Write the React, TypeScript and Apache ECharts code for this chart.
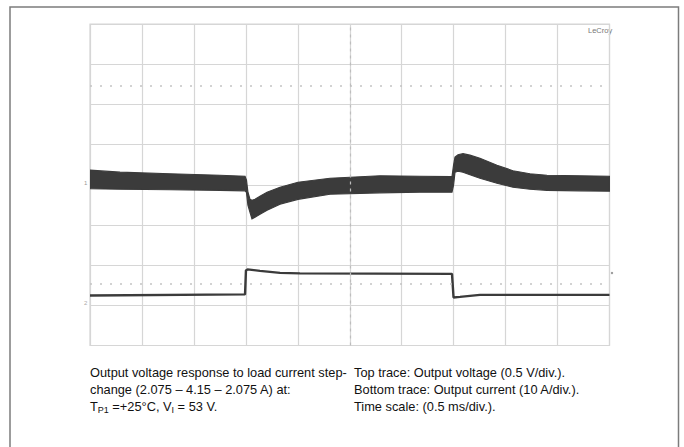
import React, { useEffect, useRef } from "react";
import * as echarts from "echarts";

// Time axis (ms), 0.5 ms/div, 10 divisions
const X_MIN = 0;
const X_MAX = 5;
const X_INTERVAL = 0.5;
// Vertical axis in screen divisions, 8 divisions
const Y_MIN = -4;
const Y_MAX = 4;
const Y_INTERVAL = 1;
const VOLT_PER_DIV = 0.5;

// Top trace: output voltage envelope (V, deviation from trace reference)
const voltTimeMs = [
  0, 0.289, 0.77, 1.251, 1.492, 1.506, 1.52, 1.54, 1.559, 1.588, 1.636, 1.704, 1.829, 2.002, 2.31,
  2.791, 3.176, 3.484, 3.499, 3.513, 3.542, 3.59, 3.657, 3.753, 3.917, 4.071, 4.234, 4.398, 4.716, 5.0,
];
const voltTopV = [
  0.181, 0.156, 0.137, 0.118, 0.106, 0.056, -0.093, -0.181, -0.193, -0.181, -0.143, -0.093, -0.031, 0.031, 0.081,
  0.112, 0.106, 0.1, 0.243, 0.343, 0.374, 0.386, 0.368, 0.33, 0.243, 0.174, 0.137, 0.118, 0.112, 0.106,
];
const voltBotV = [
  -0.05, -0.056, -0.062, -0.069, -0.075, -0.093, -0.255, -0.343, -0.424, -0.405, -0.368, -0.318, -0.243, -0.181, -0.118,
  -0.1, -0.093, -0.093, -0.006, 0.156, 0.168, 0.156, 0.125, 0.081, 0.019, -0.031, -0.056, -0.069, -0.075, -0.081,
];

// Bottom trace: output current, position in screen divisions
const currTimeMs = [0, 1.492, 1.501, 1.516, 1.636, 1.829, 2.021, 3.484, 3.499, 3.561, 3.753, 5.0];
const currTraceDiv = [-2.754, -2.729, -2.131, -2.106, -2.143, -2.193, -2.206, -2.218, -2.804, -2.791, -2.741, -2.741];

// Reference markers on the screen
const dottedLevelsDiv = [2.47, -2.47];
const centerTimeMs = 2.5;

const captionLeft = [
  "Output voltage response to load current step-",
  "change (2.075 – 4.15 – 2.075 A) at:",
];
const captionRight = [
  "Top trace: Output voltage (0.5 V/div.).",
  "Bottom trace: Output current (10 A/div.).",
  "Time scale: (0.5 ms/div.).",
];

const FONT = "'Liberation Sans', Arial, sans-serif";

export default function App() {
  const ref = useRef<HTMLDivElement>(null);

  useEffect(() => {
    if (!ref.current) return;
    const chart = echarts.init(ref.current, undefined, { renderer: "svg" });

    const bandData = voltTimeMs.map((t, i) => [t, voltTopV[i] / VOLT_PER_DIV, voltBotV[i] / VOLT_PER_DIV]);
    const currData = currTimeMs.map((t, i) => [t, currTraceDiv[i]]);

    const traceColor = "#3b3b3b";
    const gridColor = "#d6d6d6";

    const textStyleBase = { fontFamily: FONT, fontSize: 12.8, fill: "#111" };
    const lineY = [372, 389, 406];

    const graphics: any[] = [
      {
        type: "rect",
        shape: { x: 10, y: 7, width: 668.5, height: 470 },
        style: { fill: "none", stroke: "#7c7c7c", lineWidth: 1.5 },
        silent: true,
      },
      {
        type: "text",
        x: 588,
        y: 30,
        style: { text: "LeCroy", fontFamily: FONT, fontSize: 7.5, fill: "#777", textVerticalAlign: "middle" },
      },
      {
        type: "text",
        x: 84,
        y: 183,
        style: { text: "1", fontFamily: FONT, fontSize: 6, fill: "#999", textVerticalAlign: "middle" },
      },
      {
        type: "text",
        x: 84,
        y: 303,
        style: { text: "2", fontFamily: FONT, fontSize: 6, fill: "#aaa", textVerticalAlign: "middle" },
      },
      {
        type: "circle",
        shape: { cx: 612, cy: 273, r: 1.2 },
        style: { fill: "#999" },
      },
    ];
    captionLeft.forEach((s, i) => {
      graphics.push({
        type: "text",
        x: 90,
        y: lineY[i],
        style: { ...textStyleBase, text: s, textVerticalAlign: "middle" },
      });
    });
    graphics.push({
      type: "text",
      x: 90,
      y: lineY[2],
      style: {
        ...textStyleBase,
        text: "T{sub|P1} =+25°C, V{sub|I} = 53 V.",
        textVerticalAlign: "middle",
        lineHeight: 17,
        rich: {
          sub: { fontFamily: FONT, fontSize: 9, lineHeight: 9, verticalAlign: "bottom", fill: "#111" },
        },
      },
    });
    captionRight.forEach((s, i) => {
      graphics.push({
        type: "text",
        x: 354,
        y: lineY[i],
        style: { ...textStyleBase, text: s, textVerticalAlign: "middle" },
      });
    });

    chart.setOption({
      animation: false,
      backgroundColor: "#ffffff",
      grid: { left: 90, top: 24, width: 519.5, height: 321.5, show: true, borderColor: gridColor, borderWidth: 1.2 },
      xAxis: {
        type: "value",
        min: X_MIN,
        max: X_MAX,
        interval: X_INTERVAL,
        axisLine: { show: false },
        axisTick: { show: false },
        axisLabel: { show: false },
        splitLine: { show: true, lineStyle: { color: gridColor, width: 1.2 } },
      },
      yAxis: {
        type: "value",
        min: Y_MIN,
        max: Y_MAX,
        interval: Y_INTERVAL,
        axisLine: { show: false },
        axisTick: { show: false },
        axisLabel: { show: false },
        splitLine: { show: true, lineStyle: { color: gridColor, width: 1.2 } },
      },
      series: [
        {
          type: "line",
          name: "markers",
          data: [],
          z: 1,
          markLine: {
            silent: true,
            symbol: "none",
            label: { show: false },
            data: [
              ...dottedLevelsDiv.map((v) => ({
                yAxis: v,
                lineStyle: { color: "#c4c4c4", type: [2, 8], width: 1.5 },
              })),
              { xAxis: centerTimeMs, lineStyle: { color: "#bdbdbd", type: [3, 4], width: 1.2 } },
            ],
          },
        },
        {
          type: "custom",
          name: "voltage",
          data: bandData,
          encode: { x: 0, y: [1, 2] },
          z: 3,
          clip: true,
          renderItem: (params: any, api: any) => {
            if (params.dataIndex !== 0) return null;
            const top = bandData.map((d) => api.coord([d[0], d[1]]));
            const bot = bandData.map((d) => api.coord([d[0], d[2]])).reverse();
            return {
              type: "polygon",
              shape: { points: top.concat(bot) },
              style: { fill: traceColor, stroke: traceColor, lineWidth: 1.2 },
            };
          },
        },
        {
          type: "line",
          name: "current",
          data: currData,
          symbol: "none",
          z: 3,
          lineStyle: { color: traceColor, width: 2.4 },
        },
      ],
      graphic: graphics,
    });

    return () => chart.dispose();
  }, []);

  return <div ref={ref} style={{ position: "fixed", left: 0, top: 0, width: 684, height: 447 }} />;
}
